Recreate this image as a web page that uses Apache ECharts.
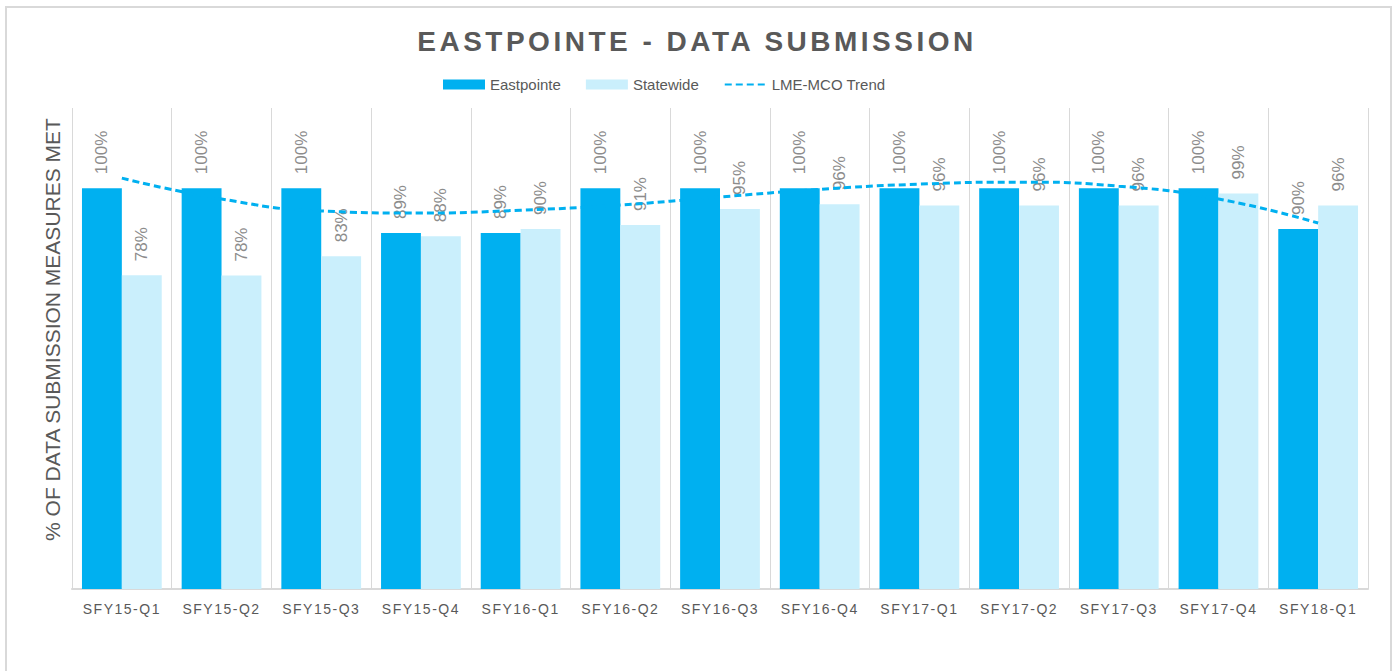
<!DOCTYPE html>
<html lang="en">
<head>
    <meta charset="UTF-8">
    <title>Eastpointe - Data Submission</title>
    <style>
        html, body { margin: 0; padding: 0; background: #fff; }
        #frame { position: absolute; left: 5px; top: 6px; width: 1383px; height: 700px; border: 2px solid #d9d9d9; }
        #chart { position: absolute; left: 0; top: 0; width: 1394px; height: 671px; }
        /* title and quarter labels are letter-spaced in the original */
        #chart text[style*="28px"] { letter-spacing: 3.5px; }
        #chart text[style*="14px"] { letter-spacing: 1.5px; }
    </style>
</head>
<body>
    <div id="frame"></div>
    <div id="chart"></div>
    <script src="https://cdn.jsdelivr.net/npm/echarts@6/dist/echarts.min.js"></script>
    <script>
        // data
        const categories = ['SFY15-Q1', 'SFY15-Q2', 'SFY15-Q3', 'SFY15-Q4', 'SFY16-Q1', 'SFY16-Q2', 'SFY16-Q3',
            'SFY16-Q4', 'SFY17-Q1', 'SFY17-Q2', 'SFY17-Q3', 'SFY17-Q4', 'SFY18-Q1'];
        const eastpointe = [1.00, 1.00, 1.00, 0.888, 0.888, 1.00, 1.00, 1.00, 1.00, 1.00, 1.00, 1.00, 0.898];
        const statewide = [0.783, 0.782, 0.83, 0.88, 0.898, 0.908, 0.948, 0.96, 0.957, 0.957, 0.957, 0.987, 0.957];
        const trend = [1.025, 0.973, 0.943, 0.938, 0.945, 0.958, 0.978, 0.997, 1.01, 1.015, 1.005, 0.973, 0.913];

        const FONT = '"Liberation Sans", Arial, sans-serif';
        const chart = echarts.init(document.getElementById('chart'), null, { renderer: 'svg' });

        const barLabel = {
            show: true,
            position: 'top',
            rotate: 90,
            align: 'left',
            verticalAlign: 'middle',
            distance: 14,
            color: '#8c8c8c',
            fontSize: 17,
            fontFamily: FONT,
            formatter: p => Math.round(p.value * 100) + '%'
        };

        chart.setOption({
            animation: false,
            title: {
                text: 'EASTPOINTE - DATA SUBMISSION',
                left: 'center',
                top: 22,
                textStyle: { color: '#595959', fontSize: 28, fontWeight: 'bold', fontFamily: FONT }
            },
            legend: {
                top: 72,
                left: 438,
                itemWidth: 42,
                itemHeight: 10,
                itemGap: 25,
                textStyle: { color: '#595959', fontSize: 15, fontFamily: FONT },
                data: [
                    { name: 'Eastpointe', icon: 'rect' },
                    { name: 'Statewide', icon: 'rect' },
                    { name: 'LME-MCO Trend', itemStyle: { opacity: 0 } }
                ]
            },
            grid: { left: 72, right: 26, top: 108, bottom: 82 },
            xAxis: {
                type: 'category',
                data: categories,
                axisTick: { show: false },
                axisLine: { lineStyle: { color: '#d9d9d9', width: 2 } },
                axisLabel: { color: '#595959', fontSize: 14, fontFamily: FONT, margin: 13, interval: 0 },
                splitLine: { show: true, interval: 0, lineStyle: { color: '#d9d9d9', width: 1 } }
            },
            yAxis: {
                type: 'value',
                min: 0,
                max: 1.2,
                axisLine: { show: false },
                axisTick: { show: false },
                axisLabel: { show: false },
                splitLine: { show: false },
                name: '% OF DATA SUBMISSION MEASURES MET',
                nameLocation: 'middle',
                nameGap: 9,
                nameTextStyle: { color: '#595959', fontSize: 21, fontFamily: FONT, padding: [0, 0, 0, 38] }
            },
            series: [
                {
                    name: 'Eastpointe',
                    type: 'bar',
                    data: eastpointe,
                    barGap: '0%',
                    barCategoryGap: '20%',
                    itemStyle: { color: '#00b0f0' },
                    label: barLabel
                },
                {
                    name: 'Statewide',
                    type: 'bar',
                    data: statewide,
                    itemStyle: { color: '#caeffc' },
                    label: barLabel
                },
                {
                    name: 'LME-MCO Trend',
                    type: 'line',
                    data: trend,
                    smooth: true,
                    symbol: 'none',
                    z: 3,
                    itemStyle: { color: '#00b0f0' },
                    lineStyle: { color: '#00b0f0', width: 3, type: [7, 4] }
                }
            ]
        });
    </script>
</body>
</html>
